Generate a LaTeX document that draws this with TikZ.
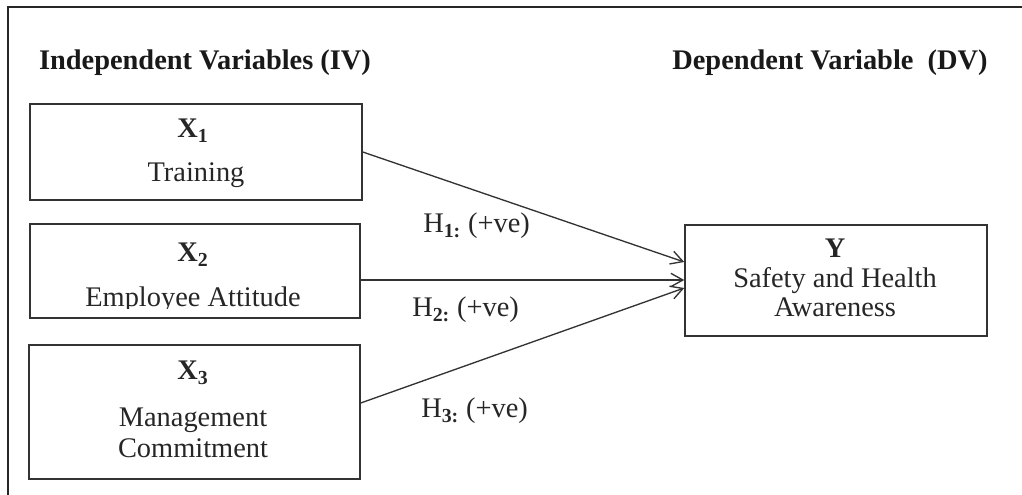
\documentclass[tikz,border=0pt]{standalone}
\usepackage{fontspec}
\setmainfont{Liberation Serif}
\usetikzlibrary{arrows.meta,calc}

\tikzset{
  frameline/.style={line width=1.5pt, draw=black!85},
  varbox/.style={draw=black!80, line width=1.1pt, inner sep=0pt, rectangle},
  label/.style={font=\fontsize{21.3}{25}\selectfont, text=black!85, inner sep=0pt, anchor=base},
  heading/.style={font=\fontsize{21.3}{25}\selectfont\bfseries, text=black!90, inner sep=0pt, anchor=base},
  link/.style={draw=black!80, line width=1pt, -{Straight Barb[length=9pt,width=10pt,line width=1pt]}},
}

\begin{document}
\begin{tikzpicture}[x=0.75pt, y=-0.75pt]
  \useasboundingbox (0,0) rectangle (1022,495);

  % frame along the top and left edges
  \draw[frameline] (8,495) -- (8,7) -- (1022,7);

  % headings
  \node[heading] (ivhead) at (205,70) {Independent Variables (IV)};
  \node[heading] (dvhead) at (830,70) {Dependent Variable\ \ (DV)};

  % independent variable boxes
  \node[varbox, minimum width=249pt, minimum height=72pt] (x1) at (196,152) {};
  \node[varbox, minimum width=247.5pt, minimum height=70.5pt] (x2) at (195,271) {};
  \node[varbox, minimum width=248.25pt, minimum height=100.5pt] (x3) at (194.5,412) {};

  % dependent variable box
  \node[varbox, minimum width=226.5pt, minimum height=83.25pt] (yv) at (836,280.5) {};

  % box texts
  \node[label] (x1sym) at (193,138) {\textbf{X}\textsubscript{\textbf{1}}};
  \node[label] (x1txt) at (196,182) {Training};
  \node[label] (x2sym) at (193,262) {\textbf{X}\textsubscript{\textbf{2}}};
  \begin{scope}
    \clip (30,224) rectangle (360,309);
    \node[label] (x2txt) at (193,307) {Employee Attitude};
  \end{scope}
  \node[label] (x3sym) at (193,380) {\textbf{X}\textsubscript{\textbf{3}}};
  \node[label] (x3txta) at (193,427) {Management};
  \node[label] (x3txtb) at (193,458) {Commitment};
  \node[label] (ysym) at (835,258) {\textbf{Y}};
  \node[label] (ytxta) at (835,288) {Safety and Health};
  \node[label] (ytxtb) at (835,317) {Awareness};

  % hypothesised paths
  \draw[link] (x1.east) -- ($(yv.west)+(0,-18.5)$);
  \draw[link] ($(x2.east)+(0,9)$) -- ($(yv.west)+(0,-0.5)$);
  \draw[link] ($(x3.east)+(0,-9)$) -- ($(yv.west)+(0,7.5)$);

  % path labels
  \node[label, anchor=base west] (h1) at (423,233) {H\textsubscript{\textbf{1:}} (+ve)};
  \node[label, anchor=base west] (h2) at (412,317) {H\textsubscript{\textbf{2:}} (+ve)};
  \node[label, anchor=base west] (h3) at (421,418) {H\textsubscript{\textbf{3:}} (+ve)};
\end{tikzpicture}
\end{document}
